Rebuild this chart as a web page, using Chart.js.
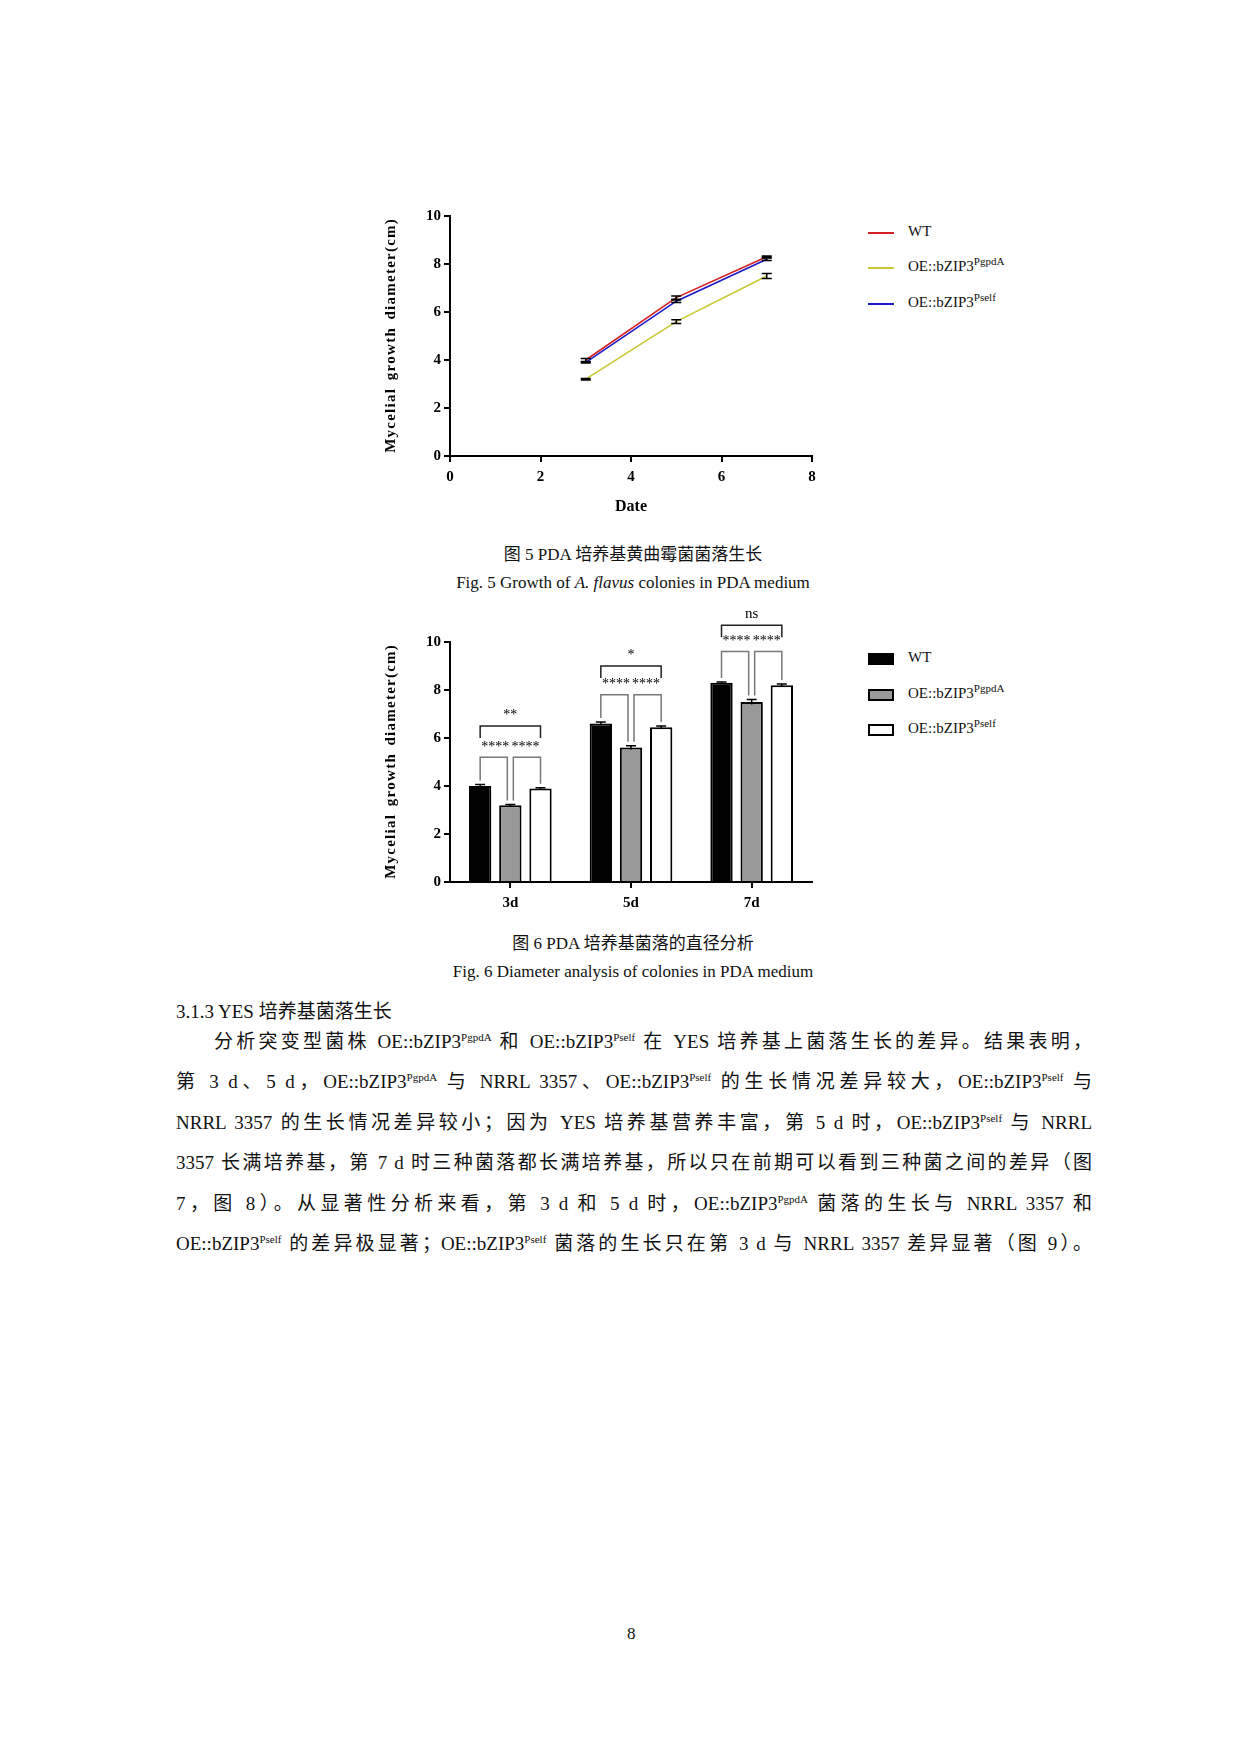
<!DOCTYPE html>
<html><head><meta charset="utf-8">
<script src="https://cdn.jsdelivr.net/npm/chart.js@4/dist/chart.umd.min.js"></script>
<style>
body{margin:0;background:#fff;width:1240px;height:1754px;position:relative;font-family:"Liberation Serif",serif;color:#111}
.abs{position:absolute}
.cap{position:absolute;left:0;width:1266px;text-align:center;font-size:17px}
.cjk{font-family:"Liberation Serif","Noto Sans CJK SC",serif}
.leg{position:absolute;left:868px;font-size:15px;line-height:18px}
.leg span.m{display:inline-block;vertical-align:middle;margin-right:14px}
sup{font-size:11px;line-height:0}
.ln{position:absolute;left:176px;width:916px;font-size:19px;line-height:24px;text-align:justify;text-align-last:justify;white-space:nowrap}
</style></head><body>
<canvas id="c1" class="abs" style="left:380px;top:200px;width:450px;height:320px"></canvas>
<canvas id="c2" class="abs" style="left:380px;top:600px;width:450px;height:320px"></canvas>

<div class="leg" style="top:222px"><span class="m" style="width:26px;height:2px;background:#d42020"></span>WT</div>
<div class="leg" style="top:257px"><span class="m" style="width:26px;height:2px;background:#c8c832"></span>OE::bZIP3<sup>PgpdA</sup></div>
<div class="leg" style="top:293px"><span class="m" style="width:26px;height:2px;background:#1a1ac8"></span>OE::bZIP3<sup>Pself</sup></div>

<div class="leg" style="top:648px"><span class="m" style="width:22px;height:8px;background:#000;border:2px solid #000"></span>WT</div>
<div class="leg" style="top:684px"><span class="m" style="width:22px;height:8px;background:#999;border:2px solid #000"></span>OE::bZIP3<sup>PgpdA</sup></div>
<div class="leg" style="top:719px"><span class="m" style="width:22px;height:8px;background:#fff;border:2px solid #000"></span>OE::bZIP3<sup>Pself</sup></div>

<div class="cap cjk" style="top:540px">图 5 PDA 培养基黄曲霉菌菌落生长</div>
<div class="cap" style="top:573px">Fig. 5 Growth of <i>A. flavus</i> colonies in PDA medium</div>
<div class="cap cjk" style="top:929px">图 6 PDA 培养基菌落的直径分析</div>
<div class="cap" style="top:962px">Fig. 6 Diameter analysis of colonies in PDA medium</div>
<div class="abs cjk" style="left:176px;top:996px;font-size:19px">3.1.3 YES 培养基菌落生长</div>
<div class="ln cjk" style="top:1030px;left:214px;width:878px">分析突变型菌株 OE::bZIP3<sup>PgpdA</sup> 和 OE::bZIP3<sup>Pself</sup> 在 YES 培养基上菌落生长的差异。结果表明，</div>
<div class="ln cjk" style="top:1070px">第 3 d、5 d，OE::bZIP3<sup>PgpdA</sup> 与 NRRL 3357、OE::bZIP3<sup>Pself</sup> 的生长情况差异较大，OE::bZIP3<sup>Pself</sup> 与</div>
<div class="ln cjk" style="top:1111px">NRRL 3357 的生长情况差异较小；因为 YES 培养基营养丰富，第 5 d 时，OE::bZIP3<sup>Pself</sup> 与 NRRL</div>
<div class="ln cjk" style="top:1151px">3357 长满培养基，第 7 d 时三种菌落都长满培养基，所以只在前期可以看到三种菌之间的差异（图</div>
<div class="ln cjk" style="top:1192px">7，图 8）。从显著性分析来看，第 3 d 和 5 d 时，OE::bZIP3<sup>PgpdA</sup> 菌落的生长与 NRRL 3357 和</div>
<div class="ln cjk" style="top:1232px">OE::bZIP3<sup>Pself</sup> 的差异极显著；OE::bZIP3<sup>Pself</sup> 菌落的生长只在第 3 d 与 NRRL 3357 差异显著（图 9）。</div>
<div class="abs" style="left:627px;top:1624px;font-size:17px">8</div>

<script>
var days = [3, 5, 7]
var dayLabels = ['3d', '5d', '7d']
var wt = [4.0, 6.6, 8.3]
var pgpda = [3.2, 5.6, 7.5]
var pself = [3.9, 6.45, 8.2]
var wtErr = [0.06, 0.07, 0.03]
var pgpdaErr = [0.03, 0.08, 0.1]
var pselfErr = [0.03, 0.05, 0.05]
// significance: small brackets (WT-PgpdA, PgpdA-Pself) and big (WT-Pself)
var smallLevel = [5.2, 7.8, 9.6]
var smallLabel = ['****', '****', '****']
var bigLevel = [6.5, 9.0, 10.7]
var bigLabel = ['**', '*', 'ns']

var F = 'Liberation Serif'
function axisY(title) {
    return {
        min: 0, max: 10,
        ticks: { stepSize: 2, color: '#000', font: { family: F, size: 15, weight: 'bold' }, padding: 3 },
        grid: { drawOnChartArea: false, drawTicks: true, tickLength: 6, color: '#000', lineWidth: 2 },
        border: { color: '#000', width: 2 },
        title: { display: true, text: 'M y c e l i a l   g r o w t h   d i a m e t e r ( c m )'.replace(/ (?! )/g, '\u200a').replace(/   /g, ' '), color: '#000', font: { family: F, size: 15, weight: 'bold' }, padding: 2 },
        afterFit: function (s) { s.width = 70 }
    }
}

var errPlugin = {
    id: 'err',
    afterDatasetsDraw: function (chart) {
        var ctx = chart.ctx, y = chart.scales.y
        chart.data.datasets.forEach(function (ds, di) {
            var meta = chart.getDatasetMeta(di)
            meta.data.forEach(function (el, i) {
                var e = ds.err[i], v = ds.data[i]
                if (typeof v === 'object') v = v.y
                var x = el.x, t = y.getPixelForValue(v + e), b = y.getPixelForValue(v - e)
                ctx.save(); ctx.strokeStyle = '#000'; ctx.lineWidth = 1.5
                ctx.beginPath()
                ctx.moveTo(x, t); ctx.lineTo(x, b)
                ctx.moveTo(x - 5, t); ctx.lineTo(x + 5, t)
                if (chart.config.type === 'line') { ctx.moveTo(x - 5, b); ctx.lineTo(x + 5, b) }
                ctx.stroke(); ctx.restore()
            })
        })
    }
}

new Chart(document.getElementById('c1'), {
    type: 'line',
    data: {
        datasets: [
            { label: 'WT', data: days.map(function (d, i) { return { x: d, y: wt[i] } }), err: wtErr, borderColor: '#d42020' },
            { label: 'PgpdA', data: days.map(function (d, i) { return { x: d, y: pgpda[i] } }), err: pgpdaErr, borderColor: '#c8c832' },
            { label: 'Pself', data: days.map(function (d, i) { return { x: d, y: pself[i] } }), err: pselfErr, borderColor: '#1a1ac8' }
        ]
    },
    options: {
        responsive: false, animation: false,
        elements: { point: { radius: 0 }, line: { borderWidth: 1.6, tension: 0 } },
        layout: { padding: { top: 16, right: 18 } },
        plugins: { legend: { display: false }, tooltip: { enabled: false } },
        scales: {
            x: {
                type: 'linear', min: 0, max: 8,
                ticks: { stepSize: 2, color: '#000', font: { family: F, size: 15, weight: 'bold' }, padding: 6 },
                grid: { drawOnChartArea: false, tickLength: 6, color: '#000', lineWidth: 2 },
                border: { color: '#000', width: 2 },
                title: { display: true, text: 'Date', color: '#000', font: { family: F, size: 16, weight: 'bold' }, padding: { top: 8 } },
                afterFit: function (s) { s.height = 64 }
            },
            y: axisY()
        }
    },
    plugins: [errPlugin]
})

var sigPlugin = {
    id: 'sig',
    afterDatasetsDraw: function (chart) {
        var ctx = chart.ctx, y = chart.scales.y
        var m0 = chart.getDatasetMeta(0), m1 = chart.getDatasetMeta(1), m2 = chart.getDatasetMeta(2)
        ctx.save()
        ctx.textAlign = 'center'; ctx.textBaseline = 'bottom'
        for (var i = 0; i < dayLabels.length; i++) {
            var x0 = m0.data[i].x, x1 = m1.data[i].x, x2 = m2.data[i].x
            var yt = function (v) { return y.getPixelForValue(v) }
            var s = yt(smallLevel[i]), bg = yt(bigLevel[i])
            ctx.strokeStyle = '#777'; ctx.lineWidth = 1.5
            ctx.beginPath()
            ctx.moveTo(x0, yt(wt[i] + wtErr[i]) - 4); ctx.lineTo(x0, s); ctx.lineTo(x1 - 3, s); ctx.lineTo(x1 - 3, yt(pgpda[i] + pgpdaErr[i]) - 4)
            ctx.moveTo(x1 + 3, yt(pgpda[i] + pgpdaErr[i]) - 4); ctx.lineTo(x1 + 3, s); ctx.lineTo(x2, s); ctx.lineTo(x2, yt(pself[i] + pselfErr[i]) - 4)
            ctx.stroke()
            ctx.strokeStyle = '#222'
            ctx.beginPath()
            ctx.moveTo(x0, bg + 12); ctx.lineTo(x0, bg); ctx.lineTo(x2, bg); ctx.lineTo(x2, bg + 12)
            ctx.stroke()
            ctx.fillStyle = '#000'
            ctx.font = '14px ' + F
            ctx.fillText(smallLabel[i], (x0 + x1) / 2, s - 3)
            ctx.fillText(smallLabel[i], (x1 + x2) / 2, s - 3)
            ctx.font = (bigLabel[i] === 'ns' ? '15px ' : '14px ') + F
            ctx.fillText(bigLabel[i], (x0 + x2) / 2, bg - 4)
        }
        ctx.restore()
    }
}

new Chart(document.getElementById('c2'), {
    type: 'bar',
    data: {
        labels: dayLabels,
        datasets: [
            { label: 'WT', data: wt, err: wtErr, backgroundColor: '#000' },
            { label: 'PgpdA', data: pgpda, err: pgpdaErr, backgroundColor: '#999' },
            { label: 'Pself', data: pself, err: pselfErr, backgroundColor: '#fff' }
        ]
    },
    options: {
        responsive: false, animation: false,
        datasets: { bar: { borderColor: '#000', borderWidth: 2, borderSkipped: 'bottom', categoryPercentage: 0.75, barPercentage: 0.74 } },
        layout: { padding: { top: 42, right: 18 } },
        plugins: { legend: { display: false }, tooltip: { enabled: false } },
        scales: {
            x: {
                ticks: { color: '#000', font: { family: F, size: 15, weight: 'bold' }, padding: 6 },
                grid: { drawOnChartArea: false, tickLength: 6, color: '#000', lineWidth: 2, offset: false },
                border: { color: '#000', width: 2 },
                afterFit: function (s) { s.height = 38 }
            },
            y: axisY()
        }
    },
    plugins: [errPlugin, sigPlugin]
})
</script>
</body></html>
